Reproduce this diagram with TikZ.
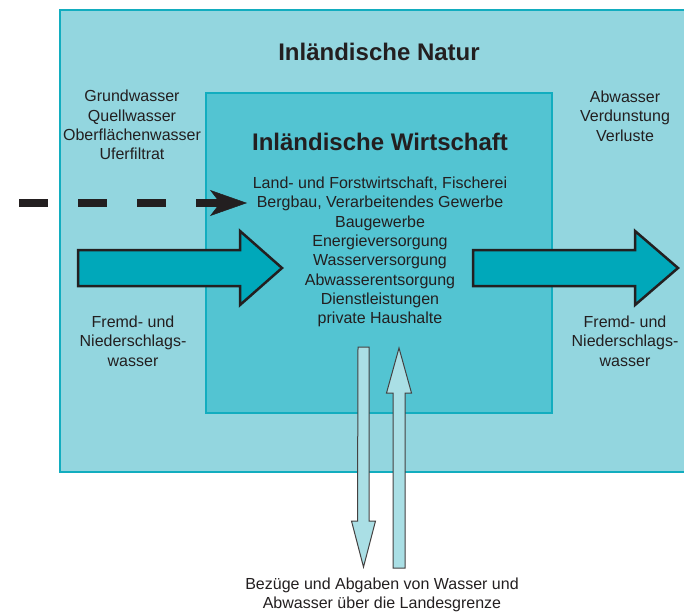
\documentclass[tikz,border=0pt]{standalone}
\usepackage{fontspec}
\setmainfont{Liberation Sans}
\usetikzlibrary{arrows.meta}
\definecolor{natur}{HTML}{93D6DF}
\definecolor{wirtschaft}{HTML}{53C4D2}
\definecolor{rand}{HTML}{12ADBF}
\definecolor{strom}{HTML}{00A8BA}
\definecolor{grenzfluss}{HTML}{AADFE5}
\definecolor{ink}{HTML}{231F20}
\tikzset{
  titel/.style={font=\fontsize{24}{28}\selectfont\bfseries, text=ink},
  liste/.style={font=\fontsize{16}{19.3}\selectfont, text=ink, align=center},
  flusspfeil/.style={fill=strom, draw=ink, line width=2.5pt},
  grenzpfeil/.style={fill=grenzfluss, draw=ink!85, line width=1pt},
  zustromlinie/.style={draw=ink, line width=8pt, dash pattern=on 29pt off 30pt,
    -{Stealth[length=37pt,width=26pt,inset=10pt,line width=0.5pt]}}
}
\begin{document}
\begin{tikzpicture}[x=1pt,y=-1pt]
    \clip (0,0) rectangle (684,612);
    \filldraw[fill=natur, draw=rand, line width=2.3pt] (60,10) rectangle (700,472);
    \filldraw[fill=wirtschaft, draw=rand, line width=1.2pt] (206,93) rectangle (552,413);
    \coordinate (zustrom) at (19,203);
    \coordinate (fischerei) at (247,203);
    \draw[zustromlinie] (zustrom) -- (fischerei);
    \coordinate (einstrom) at (78,267.5);
    \coordinate (ausstrom) at (473,267.5);
    \draw[flusspfeil] (einstrom) ++(0,-17.5) -- ++(162,0) -- ++(0,-19) -- ++(42,37)
      -- ++(-42,37) -- ++(0,-19) -- ++(-162,0) -- cycle;
    \draw[flusspfeil] (ausstrom) ++(0,-17.5) -- ++(162,0) -- ++(0,-19) -- ++(43,37)
      -- ++(-43,37) -- ++(0,-19) -- ++(-162,0) -- cycle;
    \coordinate (abgabe) at (363.5,347);
    \coordinate (bezug) at (399,568);
    \draw[grenzpfeil] (abgabe) ++(-5.5,0) -- ++(11,0) -- ++(0,174) -- ++(6.5,0)
      -- ++(-12,46) -- ++(-12,-46) -- ++(6,0) -- cycle;
    \draw[grenzpfeil] (bezug) ++(-6,0) -- ++(12,0) -- ++(0,-175) -- ++(6.5,0)
      -- ++(-12.5,-45) -- ++(-12.5,45) -- ++(6.5,0) -- cycle;
    \node (naturtitel) at (379,52) [titel] {Inländische Natur};
    \node (wirtschaftstitel) at (380,141.5) [titel] {Inländische Wirtschaft};
    \node (bereiche) at (380,252) [liste] {Land- und Forstwirtschaft, Fischerei\\
      Bergbau, Verarbeitendes Gewerbe\\Baugewerbe\\Energieversorgung\\
      Wasserversorgung\\Abwasserentsorgung\\Dienstleistungen\\private Haushalte};
    \node (quellen) at (132,125) [liste] {Grundwasser\\Quellwasser\\Oberflächenwasser\\Uferfiltrat};
    \node (verbleib) at (625,116) [liste] {Abwasser\\Verdunstung\\Verluste};
    \node (fremdzu) at (133,341) [liste] {Fremd- und\\Niederschlags-\\wasser};
    \node (fremdab) at (625,341) [liste] {Fremd- und\\Niederschlags-\\wasser};
    \node (landesgrenze) at (382,595) [liste] {Bezüge und Abgaben von Wasser und\\
      Abwasser über die Landesgrenze};
\end{tikzpicture}
\end{document}
